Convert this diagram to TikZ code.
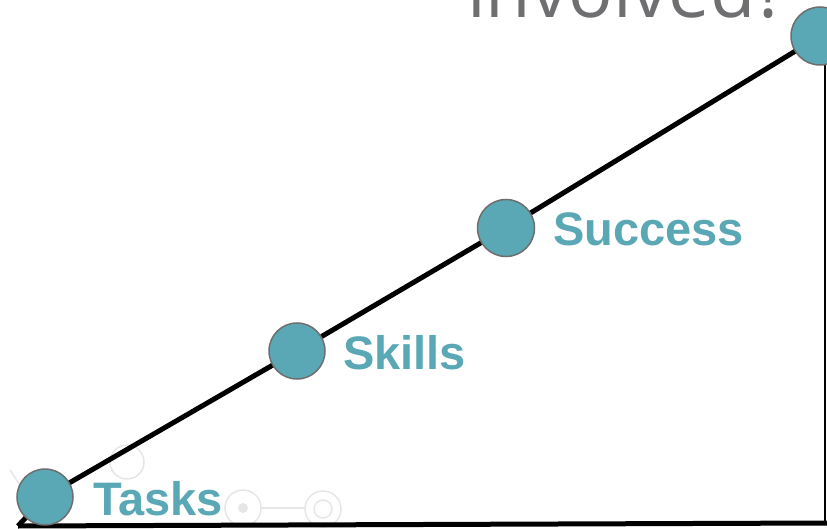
\documentclass[tikz,border=0pt]{standalone}
\usepackage{fontspec}
\setmainfont{Liberation Sans}
\newfontfamily\titlefont{Open Sans}
\definecolor{tealc}{HTML}{5AA8B5}
\definecolor{ringc}{HTML}{6E6E6E}
\definecolor{titlec}{HTML}{6F6F71}
\definecolor{faintc}{HTML}{E6E6E6}
\tikzset{
  dot/.style={circle, fill=tealc, draw=ringc, line width=1.5pt, minimum size=#1, inner sep=0pt},
  lbl/.style={anchor=base west, text=tealc, font=\fontsize{47}{50}\selectfont\bfseries, inner sep=0pt},
  faint/.style={draw=faintc, line width=1.5pt},
}
\begin{document}
\begin{tikzpicture}[x=1pt, y=-1pt]
\useasboundingbox (0,0) rectangle (827,529);
\begin{scope}
\clip (0,0) rectangle (827,529);
% faint background decoration
\draw[faint] (127,462) circle (17);
\draw[faint] (243,508) circle (18);
\fill[faintc] (243,508) circle (5);
\draw[faint] (323,509) circle (18);
\draw[faint] (323,509) circle (9);
\draw[faint] (261,508) -- (305,508);
\draw[faint] (10,470) -- (30,500);
\fill[faintc] (35,505) circle (7);
% title
\node[anchor=base west, inner sep=0pt, text=titlec, font=\titlefont\fontsize{74}{76}\selectfont] (title) at (467,18) {involved?};
% triangle
\coordinate (corner) at (18,526);
\coordinate (br) at (827,523);
\coordinate (rt) at (825,58);
\coordinate (rb) at (825,523);
\draw[line width=2pt] (rt) -- (rb);
\draw[line width=5pt] (corner) -- (br);
\coordinate (tc) at (45,497);
\coordinate (kc) at (297,351);
\coordinate (sc) at (506,228);
\coordinate (pc) at (820,36);
\draw[line width=5pt, line join=round] (corner) -- (tc) -- (kc) -- (sc) -- (pc);
\node[dot=56pt] (tasks) at (tc) {};
\node[dot=56pt] (skills) at (kc) {};
\node[dot=57pt] (success) at (sc) {};
\node[dot=58pt] (top) at (pc) {};
\node[lbl] (ltasks) at (93,515) {Tasks};
\node[lbl] (lskills) at (343,369) {Skills};
\node[lbl] (lsuccess) at (553,246) {Success};
\end{scope}
\end{tikzpicture}
\end{document}
